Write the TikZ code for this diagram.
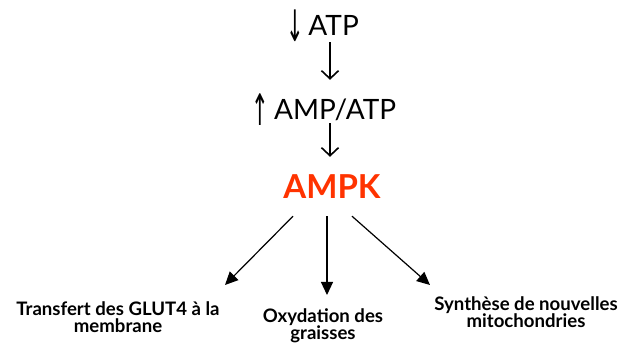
\documentclass[tikz,border=0pt]{standalone}
\usepackage{fontspec}
\usepackage{graphicx}
\setmainfont{Lato}
\newfontfamily\arrowfont{DejaVu Sans}
\usetikzlibrary{arrows.meta}
\definecolor{ampkred}{RGB}{255,51,0}
\newcommand{\trend}[1]{\raisebox{-6pt}{\scalebox{0.75}[1.55]{\arrowfont #1}}}
\tikzset{
  level/.style={inner sep=0pt, anchor=base, font=\fontsize{28}{30}\selectfont},
  kinase/.style={inner sep=0pt, anchor=base, text=ampkred, font=\fontsize{33}{36}\selectfont\bfseries},
  effect/.style={inner sep=0pt, anchor=base, align=center, font=\fontsize{18.6}{17}\selectfont\bfseries},
  vline/.style={line width=1.6pt, -{Straight Barb[length=8pt,width=17pt,line width=1.6pt]}},
  dline/.style={line width=1.2pt, -{Triangle[length=13pt,width=12pt]}},
}
\begin{document}
\begin{tikzpicture}[x=1pt,y=-1pt]
  \useasboundingbox (0,0) rectangle (622,344);
  % energy status
  \node[level, text height=23pt, text depth=6pt] (atp) at (322.5,36) {\trend{↓}\,ATP};
  \node[level, text height=40pt, text depth=3pt] (amp) at (324,120) {\trend{↑}\,AMP/ATP};
  \node[kinase, text height=42pt, text depth=17pt] (ampk) at (332,199) {AMPK};
  \coordinate (spine) at (330,0);
  \draw[vline] (atp.south -| spine) -- (amp.north -| spine);
  \draw[vline] (amp.south -| spine) -- (ampk.north -| spine);
  % downstream effects (base = baseline of the last line)
  \node[effect] (glut) at (118,333) {Transfert des GLUT4 à la\\membrane};
  \node[effect] (fat) at (323,340) {Oxydation des\\graisses};
  \node[effect] (mito) at (526,328) {Synthèse de nouvelles\\mitochondries};
  \coordinate (tipL) at (225,285);
  \coordinate (tipM) at (327,295);
  \coordinate (tipR) at (430,285);
  \draw[dline] ([xshift=-39pt]ampk.south) -- (tipL);
  \draw[dline] ([xshift=-5pt]ampk.south) -- (tipM);
  \draw[dline] ([xshift=20pt]ampk.south) -- (tipR);
\end{tikzpicture}
\end{document}
